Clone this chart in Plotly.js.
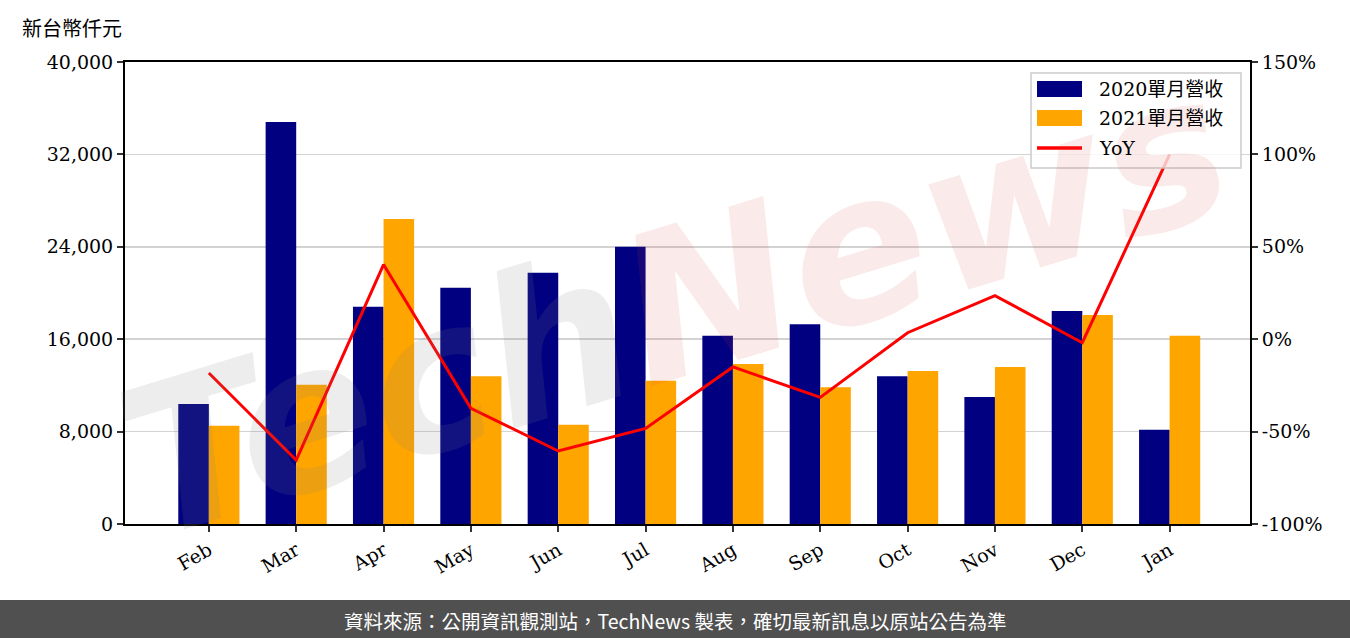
<!DOCTYPE html>
<html lang="zh-TW">
<head>
<meta charset="utf-8">
<script src="https://cdn.plot.ly/plotly-3.0.1.min.js"></script>
<style>
html,body{margin:0;padding:0;background:#fff;}
#chart{width:1350px;height:638px;}
</style>
</head>
<body>
<div id="chart"></div>
<script>
const months = ['Feb','Mar','Apr','May','Jun','Jul','Aug','Sep','Oct','Nov','Dec','Jan'];
const rev2020 = [10400, 34800, 18800, 20450, 21750, 24000, 16300, 17300, 12800, 11000, 18450, 8150];
const rev2021 = [8500, 12050, 26400, 12800, 8600, 12400, 13850, 11850, 13250, 13600, 18100, 16300];
const yoy = [-18.3, -65.4, 40.4, -37.4, -60.5, -48.3, -15.0, -31.5, 3.5, 23.6, -1.9, 100.0];
const yTicks = [0, 8000, 16000, 24000, 32000, 40000];
const y2Ticks = [-100, -50, 0, 50, 100, 150];
const seriesNames = ['2020單月營收', '2021單月營收', 'YoY'];
const seriesColors = ['#000080', '#FFA500', '#FF0000'];

const xIdx = months.map((m, i) => i);
const serif = 'DejaVu Serif, "Noto Sans CJK TC", serif';
const tickFont = {family: serif, size: 19, color: '#000'};

const traces = [
  {type: 'bar', name: seriesNames[0], x: xIdx, y: rev2020, marker: {color: seriesColors[0]}, offset: -0.35, width: 0.35},
  {type: 'bar', name: seriesNames[1], x: xIdx, y: rev2021, marker: {color: seriesColors[1]}, offset: 0, width: 0.35},
  {type: 'scatter', mode: 'lines', name: seriesNames[2], x: xIdx, y: yoy, yaxis: 'y2', line: {color: seriesColors[2], width: 3}}
];

const L = 125, R = 1250, T = 62, B = 524, H = B - T, W = R - L;
const px = v => (v - L) / W;
const py = v => (B - v) / H;

// custom legend (matplotlib style: wide patches)
const legShapes = [
  {type: 'rect', xref: 'paper', yref: 'paper', x0: px(1031), x1: px(1241), y0: py(73), y1: py(168),
   fillcolor: 'rgba(255,255,255,0.8)', line: {color: '#cccccc', width: 1.5}, layer: 'above'},
  {type: 'rect', xref: 'paper', yref: 'paper', x0: px(1037), x1: px(1082), y0: py(81), y1: py(97),
   fillcolor: seriesColors[0], line: {width: 0}, layer: 'above'},
  {type: 'rect', xref: 'paper', yref: 'paper', x0: px(1037), x1: px(1082), y0: py(110), y1: py(126),
   fillcolor: seriesColors[1], line: {width: 0}, layer: 'above'},
  {type: 'line', xref: 'paper', yref: 'paper', x0: px(1037), x1: px(1082), y0: py(148), y1: py(148),
   line: {color: seriesColors[2], width: 3.5}, layer: 'above'}
];
const legY = [89, 118, 148];
const legAnn = seriesNames.map((n, i) => ({
  xref: 'paper', yref: 'paper', x: px(1097), y: py(legY[i]), xanchor: 'left', yanchor: 'middle',
  text: n, showarrow: false, font: {family: serif, size: 19, color: '#000'}
}));

const layout = {
  width: 1350, height: 638,
  margin: {l: L, r: 1350 - R, t: T, b: 638 - B},
  paper_bgcolor: '#fff', plot_bgcolor: '#fff',
  showlegend: false,
  barmode: 'overlay',
  xaxis: {
    range: [-0.96, 11.92],
    tickmode: 'array', tickvals: xIdx, ticktext: months,
    tickangle: -30, tickfont: tickFont,
    ticks: 'outside', ticklen: 6, tickwidth: 2, tickcolor: '#333',
    showline: true, linecolor: '#000', linewidth: 2, mirror: true,
    showgrid: false, zeroline: false
  },
  yaxis: {
    range: [0, 40000],
    tickmode: 'array', tickvals: yTicks, ticktext: yTicks.map(v => v.toLocaleString('en-US')),
    tickfont: tickFont,
    ticks: 'outside', ticklen: 6, tickwidth: 2, tickcolor: '#333',
    showline: true, linecolor: '#000', linewidth: 2,
    showgrid: true, gridcolor: '#d3d3d3', gridwidth: 1.5, zeroline: false
  },
  yaxis2: {
    overlaying: 'y', side: 'right',
    range: [-100, 150],
    tickmode: 'array', tickvals: y2Ticks, ticktext: y2Ticks.map(v => v + '%'),
    tickfont: tickFont,
    ticks: 'outside', ticklen: 6, tickwidth: 2, tickcolor: '#333',
    showline: true, linecolor: '#000', linewidth: 2,
    showgrid: false, zeroline: false
  },
  annotations: [
    {xref: 'paper', yref: 'paper', x: px(675), y: py(305), xanchor: 'center', yanchor: 'middle',
     text: '<span style="color:rgba(130,130,130,0.14)">Tech</span><span style="color:rgba(215,60,60,0.11)">News</span>',
     font: {family: 'DejaVu Sans', size: 205, weight: 'bold', style: 'italic', color: '#000'},
     textangle: -17, showarrow: false},
    ...legAnn,
    {xref: 'paper', yref: 'paper', x: px(20), y: py(27), xanchor: 'left', yanchor: 'middle',
     text: '新台幣仟元', showarrow: false,
     font: {family: '"Noto Sans CJK TC", serif', size: 20, color: '#000'}},
    {xref: 'paper', yref: 'paper', x: px(675), y: py(620), xanchor: 'center', yanchor: 'middle',
     text: '資料來源：公開資訊觀測站，TechNews 製表，確切最新訊息以原站公告為準', showarrow: false,
     font: {family: '"Noto Sans CJK TC", sans-serif', size: 19.5, color: '#fff'}}
  ],
  shapes: [
    {type: 'rect', xref: 'paper', yref: 'paper', x0: px(0), x1: px(1350), y0: py(600), y1: py(640),
     fillcolor: '#505050', line: {width: 0}, layer: 'below'},
    ...legShapes
  ]
};

Plotly.newPlot('chart', traces, layout, {displayModeBar: false, staticPlot: true});
</script>
</body>
</html>
